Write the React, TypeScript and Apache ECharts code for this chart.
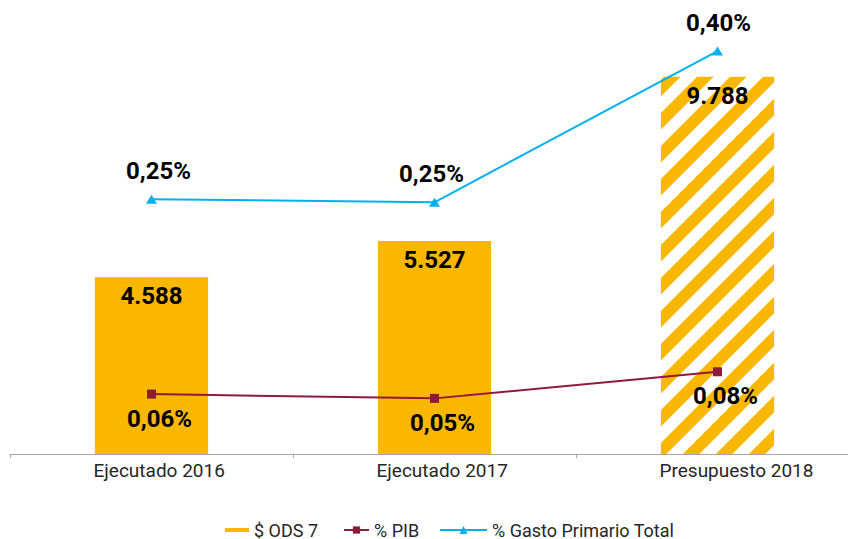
import React, { useEffect, useRef } from "react";
import * as echarts from "echarts";

const categories = ["Ejecutado 2016", "Ejecutado 2017", "Presupuesto 2018"];
const odsValues = [4588, 5527, 9788];
const pibValues = [0.059, 0.0548, 0.081];
const gastoValues = [0.251, 0.248, 0.397];
const seriesNames = ["$ ODS 7", "% PIB", "% Gasto Primario Total"];

const ORANGE = "#F9B700";
const MAROON = "#8E1A3C";
const BLUE = "#00B0F0";

function makeStripes(): string {
  const P = 33;
  const c = document.createElement("canvas");
  c.width = P;
  c.height = P;
  const ctx = c.getContext("2d");
  if (!ctx) return "";
  const img = ctx.createImageData(P, P);
  const S = 4;
  for (let j = 0; j < P; j++) {
    for (let i = 0; i < P; i++) {
      let cov = 0;
      for (let sy = 0; sy < S; sy++) {
        for (let sx = 0; sx < S; sx++) {
          const x = i + (sx + 0.5) / S;
          const y = j + (sy + 0.5) / S;
          const v = (((x + y) % P) + P) % P;
          if (v >= 15 && v < 31.5) cov++;
        }
      }
      const a = cov / (S * S);
      const k = (j * P + i) * 4;
      img.data[k] = Math.round(255 * (1 - a) + 249 * a);
      img.data[k + 1] = Math.round(255 * (1 - a) + 183 * a);
      img.data[k + 2] = Math.round(255 * (1 - a) + 0 * a);
      img.data[k + 3] = 255;
    }
  }
  ctx.putImageData(img, 0, 0);
  return c.toDataURL();
}

const fmtThousands = (v: number) =>
  String(v).replace(/\B(?=(\d{3})+(?!\d))/g, ".");
const fmtPct = (v: number) => v.toFixed(2).replace(".", ",") + "%";

export default function App() {
  const ref = useRef<HTMLDivElement>(null);
  useEffect(() => {
    if (!ref.current) return;
    const chart = echarts.init(ref.current, undefined, { renderer: "svg" });
    const stripes = makeStripes();
    const barData = odsValues.map((v, i) =>
      i === 2
        ? {
            value: v,
            itemStyle: {
              color: {
                image: stripes,
                repeat: "repeat",
                imageWidth: 33,
                imageHeight: 33,
              },
            },
          }
        : { value: v }
    );
    const gastoOffsets = [7, -3, 1];
    const gastoData = gastoValues.map((v, i) => ({
      value: v,
      label: { offset: [gastoOffsets[i], 0] },
    }));
    const labelFont = {
      fontFamily: "Roboto",
      fontWeight: "bold" as const,
      fontSize: 24,
      color: "#000",
    };
    const legendText = {
      fontFamily: "Roboto",
      fontSize: 18,
      lineHeight: 18,
      color: "#262626",
    };
    chart.setOption({
      animation: false,
      backgroundColor: "#fff",
      grid: { left: 10, right: 11, top: 30, bottom: 85 },
      xAxis: {
        type: "category",
        data: categories,
        axisLine: { lineStyle: { color: "#A6A6A6", width: 1 } },
        axisTick: { show: true, length: 4, lineStyle: { color: "#A6A6A6" } },
        axisLabel: {
          fontFamily: "Roboto",
          fontSize: 19,
          color: "#262626",
          margin: 7,
          align: "left",
          padding: [0, 0, 0, -58],
        },
      },
      yAxis: [
        { type: "value", min: 0, max: 11000, show: false, splitLine: { show: false } },
        { type: "value", min: 0, max: 0.4177, show: false, splitLine: { show: false } },
      ],
      legend: [
        {
          data: [seriesNames[0]],
          left: 225,
          top: 521,
          padding: 0,
          itemWidth: 24,
          itemHeight: 4,
          icon: "rect",
          textStyle: legendText,
        },
        {
          data: [seriesNames[1]],
          left: 343,
          top: 521,
          padding: 0,
          itemWidth: 25,
          itemHeight: 9,
          textStyle: legendText,
        },
        {
          data: [seriesNames[2]],
          left: 439,
          top: 521,
          padding: 0,
          itemWidth: 47,
          itemHeight: 10,
          textStyle: legendText,
        },
      ],
      series: [
        {
          name: seriesNames[0],
          type: "bar",
          yAxisIndex: 0,
          barWidth: "40%",
          itemStyle: { color: ORANGE },
          data: barData,
          label: {
            show: true,
            position: "insideTop",
            distance: 7,
            formatter: (p: any) => fmtThousands(p.value),
            ...labelFont,
          },
          z: 1,
        },
        {
          name: seriesNames[1],
          type: "line",
          yAxisIndex: 1,
          data: pibValues,
          symbol: "rect",
          symbolSize: 9,
          lineStyle: { color: MAROON, width: 2 },
          itemStyle: { color: MAROON },
          label: {
            show: true,
            position: "bottom",
            distance: 8,
            offset: [8, 0],
            formatter: (p: any) => fmtPct(p.value),
            ...labelFont,
          },
          z: 3,
        },
        {
          name: seriesNames[2],
          type: "line",
          yAxisIndex: 1,
          data: gastoData,
          symbol: "triangle",
          symbolSize: [11, 9],
          lineStyle: { color: BLUE, width: 2 },
          itemStyle: { color: BLUE },
          label: {
            show: true,
            position: "top",
            distance: 12,
            formatter: (p: any) => fmtPct(p.value),
            ...labelFont,
          },
          z: 3,
        },
      ],
    });
    return () => chart.dispose();
  }, []);
  return (
    <div
      style={{
        position: "fixed",
        left: 0,
        top: 0,
        width: 848,
        height: 539,
        overflow: "hidden",
      }}
    >
      <div ref={ref} style={{ width: 870, height: 539 }} />
    </div>
  );
}
